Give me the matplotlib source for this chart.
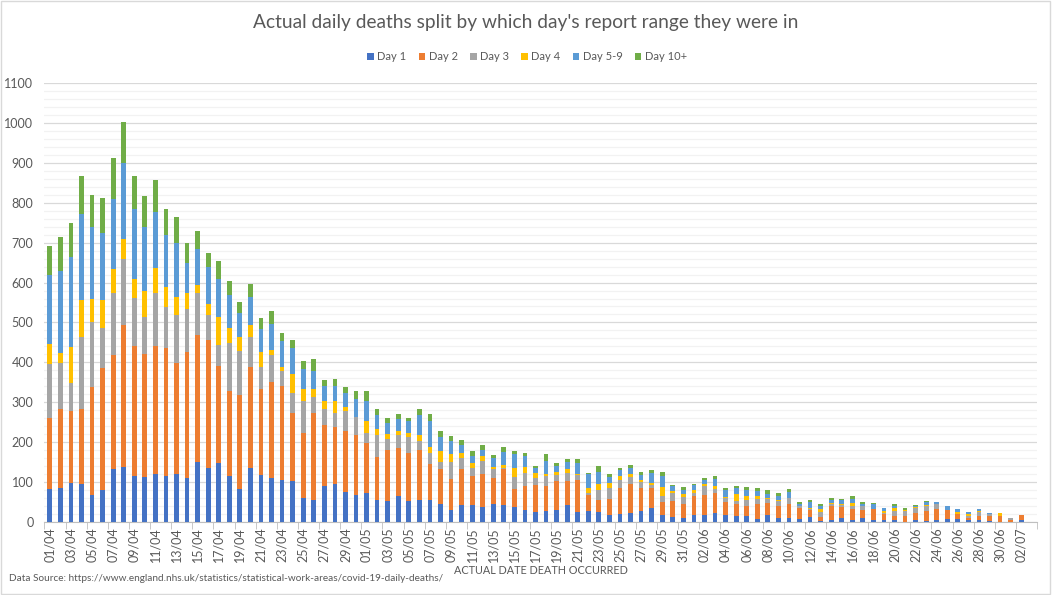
import pandas as pd
import matplotlib.pyplot as plt
import numpy as np
from matplotlib.patches import Rectangle

plt.rcParams['font.family'] = ['Lato', 'DejaVu Sans']

# one value per day, 01/04 .. 02/07
day1 = [83, 85, 98, 95, 68, 81, 133, 138, 115, 113, 120, 115, 120, 110, 150, 135, 148, 116, 83, 136,
        118, 111, 106, 103, 61, 56, 91, 96, 76, 68, 73, 56, 53, 66, 53, 56, 56, 45, 30, 43,
        43, 38, 45, 43, 38, 30, 25, 28, 30, 43, 25, 28, 25, 18, 20, 23, 28, 35, 18, 13,
        11, 18, 18, 23, 18, 15, 15, 8, 18, 10, 10, 8, 13, 3, 6, 10, 6, 10, 6, 6,
        6, 0, 5, 3, 5, 8, 8, 5, 5, 3, 0, 0, 5]
day2 = [178, 198, 180, 188, 271, 306, 286, 356, 326, 308, 321, 321, 279, 316, 319, 322, 244, 211, 236, 253,
        216, 241, 236, 169, 162, 216, 151, 141, 151, 150, 125, 107, 128, 120, 120, 125, 90, 88, 78, 90,
        73, 83, 66, 90, 45, 61, 68, 63, 73, 60, 81, 40, 31, 40, 66, 73, 58, 51, 33, 40,
        35, 48, 50, 50, 33, 31, 26, 38, 30, 31, 36, 28, 16, 10, 35, 28, 27, 21, 27, 15,
        10, 16, 18, 25, 28, 23, 11, 6, 11, 13, 14, 6, 13]
day3 = [135, 116, 71, 181, 163, 100, 154, 164, 121, 93, 133, 103, 120, 108, 104, 62, 52, 122, 110, 75,
        55, 67, 37, 50, 81, 40, 40, 36, 50, 44, 25, 54, 27, 31, 40, 22, 27, 18, 43, 28,
        20, 32, 22, 3, 30, 32, 18, 25, 15, 20, 12, 5, 25, 28, 20, 17, 14, 7, 15, 20,
        17, 7, 23, 10, 10, 7, 15, 12, 10, 12, 15, 5, 4, 13, 5, 5, 8, 10, 0, 2,
        12, 12, 13, 13, 13, 0, 2, 3, 10, 3, 0, 4, 0]
day4 = [50, 25, 90, 93, 57, 70, 62, 50, 48, 65, 63, 50, 45, 39, 21, 28, 70, 38, 35, 30,
        38, 13, 10, 50, 30, 22, 20, 29, 10, 2, 29, 15, 13, 10, 10, 14, 15, 27, 20, 12,
        12, 13, 5, 7, 23, 15, 12, 5, 8, 10, 2, 13, 15, 12, 10, 8, 6, 5, 22, 5,
        8, 8, 5, 8, 2, 18, 10, 8, 3, 3, 0, 0, 3, 7, 2, 3, 7, 0, 0, 5,
        8, 2, 2, 2, 0, 0, 5, 7, 2, 0, 9, 0, 0]
day5_9 = [172, 206, 226, 216, 179, 168, 174, 191, 175, 159, 141, 129, 134, 75, 91, 93, 96, 82, 60, 70,
          57, 65, 65, 65, 50, 45, 40, 40, 35, 45, 52, 35, 27, 31, 29, 50, 65, 34, 31, 20,
          18, 15, 23, 33, 35, 28, 13, 32, 15, 18, 28, 34, 30, 15, 15, 15, 12, 25, 28, 13,
          10, 12, 10, 17, 17, 15, 15, 12, 10, 10, 15, 5, 15, 8, 8, 8, 10, 5, 13, 7,
          5, 0, 3, 8, 5, 8, 7, 5, 5, 4, 0, 0, 0]
day10 = [74, 85, 83, 95, 82, 88, 104, 104, 83, 80, 80, 67, 67, 50, 45, 35, 45, 36, 28, 33,
         28, 32, 20, 20, 20, 30, 15, 17, 17, 20, 25, 15, 13, 13, 9, 16, 18, 17, 14, 13,
         12, 12, 7, 12, 7, 7, 4, 18, 7, 7, 10, 3, 14, 7, 4, 7, 7, 7, 10, 2,
         7, 3, 5, 8, 5, 4, 7, 7, 9, 7, 7, 4, 4, 4, 4, 4, 7, 4, 2, 0,
         4, 5, 2, 2, 0, 0, 0, 0, 0, 0, 0, 0, 0]

series = ['Day 1', 'Day 2', 'Day 3', 'Day 4', 'Day 5-9', 'Day 10+']
colors = ['#4472C4', '#ED7D31', '#A5A5A5', '#FFC000', '#5B9BD5', '#70AD47']
dates = pd.date_range('2020-04-01', periods=94).strftime('%d/%m').tolist()  # last one has no data

fig = plt.figure(figsize=(10.52, 5.95), dpi=100)
ax = fig.add_axes([0.0423, 0.1227, 0.9435, 0.7378])

x = np.arange(len(day1))
bottom = np.zeros(len(day1))
for name, vals, c in zip(series, [day1, day2, day3, day4, day5_9, day10], colors):
    ax.bar(x, vals, 0.45, bottom=bottom, color=c, label=name, zorder=3)
    bottom += np.array(vals)

ax.set_xlim(-0.5, len(dates) - 0.5)
ax.set_ylim(0, 1100)
ax.set_yticks(np.arange(0, 1101, 100))
ax.set_yticks(np.arange(0, 1101, 20), minor=True)
ax.grid(axis='y', which='major', color='#D9D9D9', linewidth=0.9, zorder=1)
ax.grid(axis='y', which='minor', color='#F2F2F2', linewidth=0.9, zorder=0)

ax.set_xticks(np.arange(0, len(dates), 2))
ax.set_xticklabels(dates[::2], rotation=90)
ax.set_xticks(np.arange(-0.5, len(dates), 2), minor=True)
ax.tick_params(axis='x', which='major', length=0, pad=4, labelsize=9, labelcolor='#595959')
ax.tick_params(axis='x', which='minor', length=5, color='#BFBFBF')
ax.tick_params(axis='y', which='both', length=0, pad=8, labelsize=9, labelcolor='#595959')

for s in ['top', 'right', 'left']:
    ax.spines[s].set_visible(False)
ax.spines['bottom'].set_color('#BFBFBF')

fig.text(0.514, 0.042, 'ACTUAL DATE DEATH OCCURRED', ha='center', va='center', fontsize=7.8, color='#595959')

fig.text(0.5, 0.962, "Actual daily deaths split by which day's report range they were in",
         ha='center', va='center', fontsize=13.8, color='#595959')
fig.legend(loc='center', bbox_to_anchor=(0.501, 0.905), ncol=6, frameon=False, fontsize=8,
           handlelength=0.6, handleheight=0.6, handletextpad=0.3, columnspacing=1.1,
           labelcolor='#595959')
fig.text(0.009, 0.028, 'Data Source: https://www.england.nhs.uk/statistics/statistical-work-areas/covid-19-daily-deaths/',
         ha='left', va='center', fontsize=7.2, color='#595959')

fig.patches.append(Rectangle((0.001, 0.002), 0.997, 0.996, transform=fig.transFigure,
                             fill=False, edgecolor='#D9D9D9', linewidth=1))

fig.savefig('out.png', dpi=100)
